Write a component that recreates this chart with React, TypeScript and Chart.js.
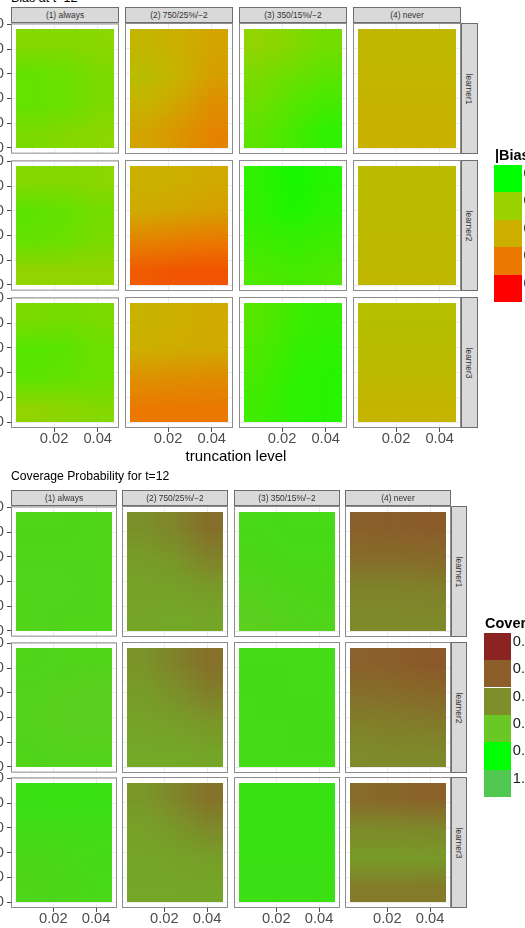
import React, { useEffect, useRef } from "react";
import { Chart, registerables } from "chart.js";

Chart.register(...registerables);

const FONT = '"Liberation Sans", Arial, Helvetica, sans-serif';

// facet labels
const strategies = ["(1) always", "(2) 750/25%/\u22122", "(3) 350/15%/\u22122", "(4) never"];
const learners = ["learner1", "learner2", "learner3"];

// raster cell centres: truncation level (x) and the vertical grid value (y, top row first)
const truncationLevels = [0.01, 0.025, 0.04];
const truncationStep = 0.015;
const yLevels = [420, 300, 180, 60];
const yStep = 120;

// axis ticks (unlabelled entries are minor grid lines)
const xTickValues = [0.01, 0.02, 0.03, 0.04];
const xTickLabels = ["", "0.02", "", "0.04"];
const yTickValues = [0, 50, 100, 150, 200, 250, 300, 350, 400, 450, 500];
const yTickLabels = ["0", "", "100", "", "200", "", "300", "", "400", "", "500"];

// |Bias| legend
const biasBreaks = [0, 0.01, 0.02, 0.03, 0.04];
const biasLabels = ["0.00", "0.01", "0.02", "0.03", "0.04"];
const biasColors = ["#00FF00", "#9AD200", "#CDAF00", "#EB7800", "#FF0000"];

// Coverage legend
const coverageBreaks = [0.75, 0.8, 0.85, 0.9, 0.95, 1.0];
const coverageLabels = ["0.75", "0.80", "0.85", "0.90", "0.95", "1.00"];
const coverageColors = ["#8B2323", "#8B5E2A", "#7D8E2A", "#69C823", "#00FF00", "#50C850"];

// |Bias| at t=12: one block per strategy, 4 rows (y=420 .. y=60) x 3 columns (0.01, 0.025, 0.04)
const biasLearner1 = [
  [0.0085, 0.0085, 0.009, 0.0065, 0.007, 0.008, 0.0065, 0.007, 0.008, 0.008, 0.0085, 0.009],
  [0.018, 0.02, 0.022, 0.016, 0.019, 0.023, 0.019, 0.022, 0.026, 0.022, 0.025, 0.028],
  [0.0095, 0.0085, 0.0075, 0.008, 0.007, 0.006, 0.007, 0.0055, 0.0045, 0.006, 0.0045, 0.003],
  [0.0175, 0.0175, 0.0175, 0.018, 0.018, 0.018, 0.0185, 0.0185, 0.0185, 0.0195, 0.0195, 0.0195],
];
const biasLearner2 = [
  [0.0085, 0.0085, 0.009, 0.006, 0.0065, 0.0075, 0.0065, 0.007, 0.008, 0.0095, 0.0095, 0.0095],
  [0.0195, 0.02, 0.021, 0.021, 0.022, 0.023, 0.028, 0.029, 0.03, 0.0325, 0.033, 0.033],
  [0.003, 0.0015, 0.0025, 0.003, 0.002, 0.003, 0.004, 0.0035, 0.004, 0.005, 0.0045, 0.005],
  [0.0165, 0.0165, 0.0165, 0.0165, 0.0165, 0.0165, 0.017, 0.017, 0.017, 0.0175, 0.0175, 0.0175],
];
const biasLearner3 = [
  [0.008, 0.0075, 0.008, 0.0055, 0.006, 0.007, 0.006, 0.0065, 0.007, 0.0095, 0.009, 0.0085],
  [0.019, 0.02, 0.021, 0.02, 0.0205, 0.021, 0.0255, 0.026, 0.0265, 0.03, 0.03, 0.03],
  [0.0055, 0.004, 0.0035, 0.005, 0.0035, 0.003, 0.0045, 0.003, 0.0025, 0.004, 0.003, 0.0025],
  [0.0155, 0.0155, 0.0155, 0.016, 0.016, 0.016, 0.017, 0.017, 0.017, 0.0185, 0.0185, 0.0185],
];

// Coverage probability at t=12, same layout
const coverageLearner1 = [
  [0.913, 0.913, 0.912, 0.912, 0.912, 0.912, 0.911, 0.911, 0.912, 0.911, 0.912, 0.912],
  [0.852, 0.84, 0.818, 0.862, 0.855, 0.838, 0.868, 0.866, 0.86, 0.87, 0.872, 0.87],
  [0.915, 0.916, 0.916, 0.914, 0.915, 0.915, 0.91, 0.913, 0.914, 0.906, 0.91, 0.912],
  [0.802, 0.8, 0.798, 0.815, 0.815, 0.813, 0.838, 0.838, 0.835, 0.846, 0.846, 0.845],
];
const coverageLearner2 = [
  [0.912, 0.911, 0.911, 0.91, 0.908, 0.906, 0.91, 0.907, 0.906, 0.911, 0.91, 0.91],
  [0.855, 0.838, 0.82, 0.862, 0.852, 0.835, 0.868, 0.865, 0.858, 0.872, 0.872, 0.87],
  [0.918, 0.918, 0.918, 0.917, 0.918, 0.918, 0.917, 0.917, 0.918, 0.917, 0.917, 0.917],
  [0.803, 0.8, 0.796, 0.818, 0.815, 0.81, 0.835, 0.832, 0.83, 0.847, 0.846, 0.845],
];
const coverageLearner3 = [
  [0.923, 0.924, 0.923, 0.918, 0.918, 0.919, 0.914, 0.915, 0.916, 0.913, 0.914, 0.915],
  [0.858, 0.842, 0.822, 0.866, 0.858, 0.845, 0.87, 0.868, 0.865, 0.871, 0.871, 0.87],
  [0.924, 0.924, 0.924, 0.924, 0.924, 0.924, 0.923, 0.923, 0.923, 0.922, 0.922, 0.922],
  [0.812, 0.808, 0.804, 0.845, 0.845, 0.843, 0.862, 0.862, 0.86, 0.83, 0.83, 0.83],
];

type Cell = { x: number; y: number; v: number };
type Rgb = [number, number, number];

function hexToRgb(hex: string): Rgb {
  const n = parseInt(hex.slice(1), 16);
  return [(n >> 16) & 255, (n >> 8) & 255, n & 255];
}

function makeColorScale(breaks: number[], colors: string[]) {
  const rgb = colors.map(hexToRgb);
  return (v: number): Rgb => {
    if (v <= breaks[0]) return rgb[0];
    const last = breaks.length - 1;
    if (v >= breaks[last]) return rgb[last];
    let i = 0;
    while (v > breaks[i + 1]) i++;
    const t = (v - breaks[i]) / (breaks[i + 1] - breaks[i]);
    return [0, 1, 2].map((k) => Math.round(rgb[i][k] + (rgb[i + 1][k] - rgb[i][k]) * t)) as Rgb;
  };
}

function toCells(block: number[]): Cell[] {
  return block.map((v, k) => ({
    x: truncationLevels[k % truncationLevels.length],
    y: yLevels[Math.floor(k / truncationLevels.length)],
    v,
  }));
}

// panel extent: raster range plus 5% expansion on each side
const xLo = truncationLevels[0] - truncationStep / 2;
const xHi = truncationLevels[truncationLevels.length - 1] + truncationStep / 2;
const yLo = Math.min(...yLevels) - yStep / 2;
const yHi = Math.max(...yLevels) + yStep / 2;
const xPadV = (xHi - xLo) * 0.05;
const yPadV = (yHi - yLo) * 0.05;

const PAD = 10;
const Y_AXIS_W = 11;
const X_AXIS_H = 22;
const TICK_COLOR = "#4D4D4D";

function HeatPanel(props: {
  cells: Cell[];
  colorOf: (v: number) => Rgb;
  left: number;
  top: number;
  w: number;
  h: number;
  showX: boolean;
  showY: boolean;
}) {
  const { cells, colorOf, left, top, w, h, showX, showY } = props;
  const ref = useRef<HTMLCanvasElement>(null);
  const la = showY ? Y_AXIS_W : 0;
  const ba = showX ? X_AXIS_H : 0;
  const cw = PAD * 2 + la + w;
  const ch = PAD * 2 + h + ba;

  useEffect(() => {
    // draws the cells as a small bitmap stretched over the scale extent (smoothed like an interpolated raster)
    const raster = {
      id: "raster",
      beforeDatasetsDraw(chart: any) {
        const data = chart.data.datasets[0].data as Cell[];
        const xs = Array.from(new Set(data.map((d) => d.x))).sort((a, b) => a - b);
        const ys = Array.from(new Set(data.map((d) => d.y))).sort((a, b) => b - a);
        const off = document.createElement("canvas");
        off.width = xs.length;
        off.height = ys.length;
        const octx = off.getContext("2d")!;
        const img = octx.createImageData(xs.length, ys.length);
        data.forEach((d) => {
          const i = xs.indexOf(d.x);
          const j = ys.indexOf(d.y);
          const [r, g, b] = colorOf(d.v);
          const o = (j * xs.length + i) * 4;
          img.data[o] = r;
          img.data[o + 1] = g;
          img.data[o + 2] = b;
          img.data[o + 3] = 255;
        });
        octx.putImageData(img, 0, 0);
        const sx = chart.scales.x;
        const sy = chart.scales.y;
        const x0 = sx.getPixelForValue(xs[0] - truncationStep / 2);
        const x1 = sx.getPixelForValue(xs[xs.length - 1] + truncationStep / 2);
        const y0 = sy.getPixelForValue(ys[0] + yStep / 2);
        const y1 = sy.getPixelForValue(ys[ys.length - 1] - yStep / 2);
        const ctx = chart.ctx as CanvasRenderingContext2D;
        ctx.save();
        ctx.imageSmoothingEnabled = true;
        ctx.drawImage(off, x0, y0, x1 - x0, y1 - y0);
        ctx.restore();
      },
      afterDraw(chart: any) {
        const a = chart.chartArea;
        const ctx = chart.ctx as CanvasRenderingContext2D;
        ctx.save();
        ctx.strokeStyle = "#8C8C8C";
        ctx.lineWidth = 1;
        ctx.strokeRect(a.left + 0.5, a.top + 0.5, a.right - a.left - 1, a.bottom - a.top - 1);
        ctx.restore();
      },
    };

    const chart = new Chart(ref.current!, {
      type: "scatter",
      data: {
        datasets: [{ data: cells as any, pointRadius: 0, pointHoverRadius: 0 }],
      },
      options: {
        responsive: false,
        animation: false,
        devicePixelRatio: 1,
        events: [],
        layout: { padding: PAD },
        plugins: { legend: { display: false }, tooltip: { enabled: false } },
        scales: {
          x: {
            type: "linear",
            min: xLo - xPadV,
            max: xHi + xPadV,
            afterBuildTicks: (s: any) => {
              s.ticks = xTickValues.map((value) => ({ value }));
            },
            afterFit: (s: any) => {
              s.height = ba;
            },
            border: { display: false },
            grid: {
              color: (c: any) => (xTickLabels[c.index] ? "#EBEBEB" : "#F3F3F3"),
              lineWidth: (c: any) => (xTickLabels[c.index] ? 1 : 0.6),
              drawTicks: showX,
              tickLength: 4,
              tickWidth: 1,
              tickColor: (c: any) => (xTickLabels[c.index] ? TICK_COLOR : "rgba(0,0,0,0)"),
            },
            ticks: {
              display: showX,
              autoSkip: false,
              maxRotation: 0,
              padding: 0,
              color: TICK_COLOR,
              font: { family: FONT, size: 14.7, lineHeight: 1 },
              callback: (_v: any, i: number) => xTickLabels[i],
            },
          },
          y: {
            type: "linear",
            position: "left",
            min: yLo - yPadV,
            max: yHi + yPadV,
            afterBuildTicks: (s: any) => {
              s.ticks = yTickValues.map((value) => ({ value }));
            },
            afterFit: (s: any) => {
              s.width = la;
            },
            border: { display: false },
            grid: {
              color: (c: any) => (yTickLabels[c.index] ? "#EBEBEB" : "#F3F3F3"),
              lineWidth: (c: any) => (yTickLabels[c.index] ? 1 : 0.6),
              drawTicks: showY,
              tickLength: 4,
              tickWidth: 1,
              tickColor: (c: any) => (yTickLabels[c.index] ? TICK_COLOR : "rgba(0,0,0,0)"),
            },
            ticks: {
              display: showY,
              autoSkip: false,
              padding: 3,
              color: TICK_COLOR,
              font: { family: FONT, size: 14.7, lineHeight: 1 },
              callback: (_v: any, i: number) => yTickLabels[i],
            },
          },
        },
      } as any,
      plugins: [raster],
    });
    return () => chart.destroy();
  }, []);

  return (
    <canvas
      ref={ref}
      width={cw}
      height={ch}
      style={{ position: "absolute", left: left - PAD - la, top: top - PAD, width: cw, height: ch }}
    />
  );
}

type Layout = {
  colLeft: number[];
  panelW: number;
  rowTop: number[];
  panelH: number;
  stripH: number;
  stripW: number;
};

const biasLayout: Layout = {
  colLeft: [11, 125, 239, 353],
  panelW: 108,
  rowTop: [23, 160, 297],
  panelH: 131,
  stripH: 16,
  stripW: 17,
};

const coverageLayout: Layout = {
  colLeft: [11, 122, 234, 345],
  panelW: 106,
  rowTop: [506, 642, 777],
  panelH: 131,
  stripH: 16,
  stripW: 16,
};

const stripStyle: React.CSSProperties = {
  position: "absolute",
  background: "#D9D9D9",
  border: "1px solid #6E6E6E",
  boxSizing: "border-box",
  font: `8.4px ${FONT}`,
  color: "#333333",
  display: "flex",
  alignItems: "center",
  justifyContent: "center",
  whiteSpace: "nowrap",
};

function FacetGrid(props: {
  layout: Layout;
  values: number[][][];
  colorOf: (v: number) => Rgb;
}) {
  const { layout, values, colorOf } = props;
  const { colLeft, panelW, rowTop, panelH, stripH, stripW } = layout;
  const lastCol = colLeft.length - 1;
  return (
    <>
      {strategies.map((s, c) => (
        <div
          key={"top" + s}
          style={{ ...stripStyle, left: colLeft[c], top: rowTop[0] - stripH, width: panelW, height: stripH }}
        >
          {s}
        </div>
      ))}
      {learners.map((l, r) => (
        <div
          key={"right" + l}
          style={{ ...stripStyle, left: colLeft[lastCol] + panelW, top: rowTop[r], width: stripW, height: panelH }}
        >
          <span style={{ transform: "rotate(90deg)" }}>{l}</span>
        </div>
      ))}
      {learners.map((l, r) =>
        strategies.map((s, c) => (
          <HeatPanel
            key={l + s}
            cells={toCells(values[r][c])}
            colorOf={colorOf}
            left={colLeft[c]}
            top={rowTop[r]}
            w={panelW}
            h={panelH}
            showX={r === learners.length - 1}
            showY={c === 0}
          />
        ))
      )}
    </>
  );
}

function Legend(props: {
  title: string;
  labels: string[];
  colors: string[];
  left: number;
  titleTop: number;
  keyTop: number;
  keyW: number;
  keyH: number;
  labelGap: number;
}) {
  const { title, labels, colors, left, titleTop, keyTop, keyW, keyH, labelGap } = props;
  return (
    <>
      <div
        style={{
          position: "absolute",
          left: left + 1,
          top: titleTop,
          font: `bold 14.5px ${FONT}`,
          lineHeight: "14.5px",
          color: "#000",
          whiteSpace: "nowrap",
        }}
      >
        {title}
      </div>
      {colors.map((col, i) => (
        <React.Fragment key={col}>
          <div
            style={{
              position: "absolute",
              left,
              top: keyTop + i * keyH,
              width: keyW,
              height: keyH,
              background: col,
            }}
          />
          <div
            style={{
              position: "absolute",
              left: left + keyW + labelGap,
              top: keyTop + i * keyH,
              height: keyH,
              lineHeight: keyH + "px",
              font: `14.7px ${FONT}`,
              color: "#1A1A1A",
              whiteSpace: "nowrap",
            }}
          >
            {labels[i]}
          </div>
        </React.Fragment>
      ))}
    </>
  );
}

const biasColorOf = makeColorScale(biasBreaks, biasColors);
const coverageColorOf = makeColorScale(coverageBreaks, coverageColors);

export default function App() {
  return (
    <div
      style={{
        position: "absolute",
        left: 0,
        top: 0,
        width: 525,
        height: 928,
        overflow: "hidden",
        background: "#FFFFFF",
        fontFamily: FONT,
      }}
    >
      <div
        style={{
          position: "absolute",
          left: 11,
          top: -8,
          font: `12.5px ${FONT}`,
          lineHeight: "12.5px",
          color: "#000",
          whiteSpace: "nowrap",
        }}
      >
        Bias at t=12
      </div>
      <FacetGrid layout={biasLayout} values={[biasLearner1, biasLearner2, biasLearner3]} colorOf={biasColorOf} />
      <div
        style={{
          position: "absolute",
          left: 36,
          width: 400,
          textAlign: "center",
          top: 447.5,
          font: `15px ${FONT}`,
          lineHeight: "15px",
          color: "#000",
        }}
      >
        truncation level
      </div>
      <Legend
        title="|Bias|"
        labels={biasLabels}
        colors={biasColors}
        left={494}
        titleTop={148}
        keyTop={165}
        keyW={28}
        keyH={27.4}
        labelGap={1.5}
      />

      <div
        style={{
          position: "absolute",
          left: 11,
          top: 470,
          font: `12.2px ${FONT}`,
          lineHeight: "12.2px",
          color: "#000",
          whiteSpace: "nowrap",
        }}
      >
        Coverage Probability for t=12
      </div>
      <FacetGrid
        layout={coverageLayout}
        values={[coverageLearner1, coverageLearner2, coverageLearner3]}
        colorOf={coverageColorOf}
      />
      <Legend
        title="Coverage"
        labels={coverageLabels}
        colors={coverageColors}
        left={484}
        titleTop={616}
        keyTop={632.7}
        keyW={27.3}
        keyH={27.4}
        labelGap={1.5}
      />
    </div>
  );
}
